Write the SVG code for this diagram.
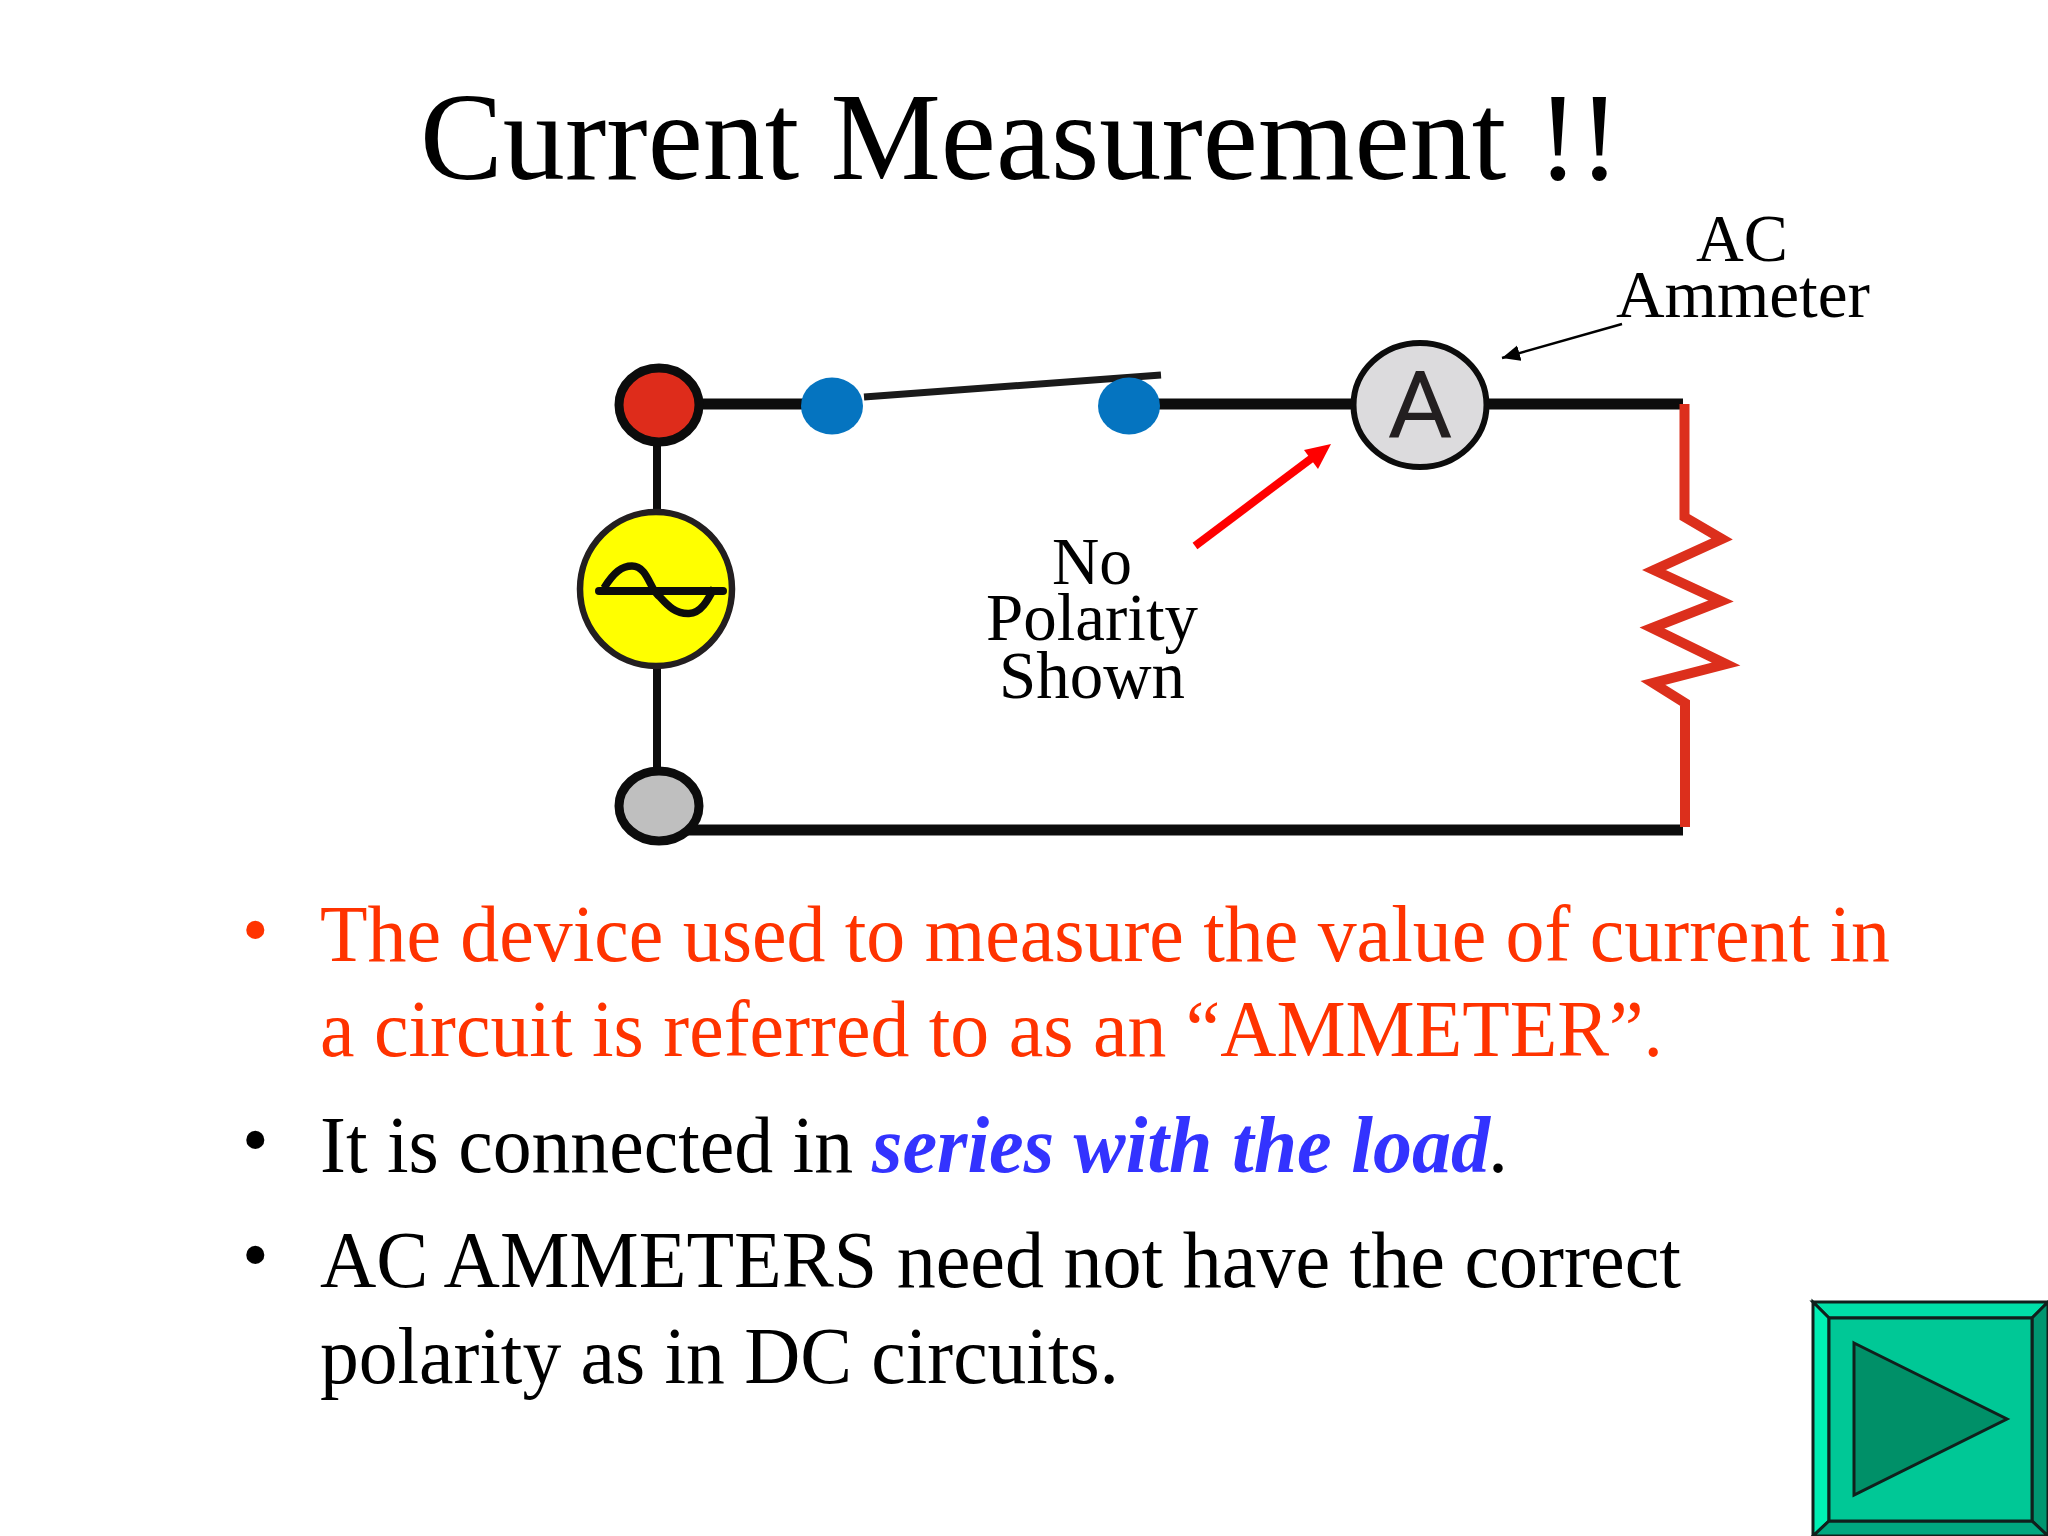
<svg xmlns="http://www.w3.org/2000/svg" width="2048" height="1536" viewBox="0 0 2048 1536">
<defs>
<style>
text{font-family:"Liberation Serif","Times New Roman",serif;fill:#000}
.lab{font-size:68px;text-anchor:middle}
.b{font-size:80px}
.d{font-size:76px}
.red{fill:#ff3300}
.w{stroke:#0c0c0c;fill:none;stroke-width:11}
.v{stroke:#0c0c0c;fill:none;stroke-width:8}
.bt{stroke:#10201c;stroke-width:3;stroke-linejoin:miter}
</style>
<marker id="ah" markerUnits="userSpaceOnUse" markerWidth="20" markerHeight="18" refX="18" refY="8" orient="auto"><path d="M0 0L18 8L0 16Z" fill="#000"/></marker>
</defs>
<rect width="2048" height="1536" fill="#fff"/>
<text id="title" x="420" y="178.500" font-size="125" textLength="1200" lengthAdjust="spacingAndGlyphs">Current Measurement !!</text>
<g id="connectors">
<path class="w" d="M659 404H832M1129 404H1355M1480 404H1683"/>
<path class="w" d="M680 830H1683"/>
<path class="v" d="M657 440V520M657 660V775"/>
<path d="M864 397L1161 375" stroke="#1a1a1a" stroke-width="7" fill="none"/>
<path d="M1684.500 404V517L1722 539L1654 570L1721 601L1652 628L1726 664L1653 683L1685 703V827" fill="none" stroke="#dc2f1c" stroke-width="10" stroke-miterlimit="10"/>
<path d="M1622 324L1502 358" stroke="#000" stroke-width="2.500" fill="none" marker-end="url(#ah)"/>
<path d="M1195 546L1316 455" stroke="#f00" stroke-width="8" fill="none"/>
<path d="M1331 444L1304 450L1318 469Z" fill="#f00"/>
</g>
<g id="node-positive"><ellipse cx="659" cy="405" rx="40" ry="37" fill="#de2c1b" stroke="#0c0c0c" stroke-width="9"/></g>
<g id="node-switch-a"><ellipse cx="832" cy="406" rx="31" ry="28.500" fill="#0574c0"/></g>
<g id="node-switch-b"><ellipse cx="1129" cy="406" rx="31" ry="28.500" fill="#0574c0"/></g>
<g id="node-source">
<ellipse cx="656" cy="589" rx="76" ry="77" fill="#ff0" stroke="#231f20" stroke-width="6.500"/>
<path d="M604 588C614 572 622 566 632 566C648 566 650 591 660 597C668 606 676 614 689 613.500C701 613 708 600 714 588" fill="none" stroke="#0c0c0c" stroke-width="7.500"/>
<path d="M599 591H723" stroke="#0c0c0c" stroke-width="8" stroke-linecap="round"/>
</g>
<g id="node-negative"><ellipse cx="659" cy="806" rx="40" ry="35" fill="#bfbfbf" stroke="#0c0c0c" stroke-width="9"/></g>
<g id="node-ammeter">
<ellipse cx="1420" cy="405" rx="66.500" ry="62" fill="#dcdbdd" stroke="#0c0c0c" stroke-width="6"/>
<text x="1420" y="436.500" font-size="93" text-anchor="middle" textLength="65" lengthAdjust="spacingAndGlyphs" style="font-family:Roboto,'Liberation Sans',sans-serif;fill:#231f20">A</text>
</g>
<g id="label-ac">
<text class="lab" x="1742" y="261" textLength="92" lengthAdjust="spacingAndGlyphs">AC</text>
<text class="lab" x="1743" y="317" textLength="254" lengthAdjust="spacingAndGlyphs">Ammeter</text>
</g>
<g id="label-polarity">
<text class="lab" x="1092" y="584" textLength="80" lengthAdjust="spacingAndGlyphs">No</text>
<text class="lab" x="1092" y="640" textLength="212" lengthAdjust="spacingAndGlyphs">Polarity</text>
<text class="lab" x="1092" y="698" textLength="186" lengthAdjust="spacingAndGlyphs">Shown</text>
</g>
<g id="bullets">
<text class="d red" x="242" y="955">•</text>
<text class="b red" x="320" y="961" textLength="1570" lengthAdjust="spacingAndGlyphs">The device used to measure the value of current in</text>
<text class="b red" x="320" y="1056" textLength="1343" lengthAdjust="spacingAndGlyphs">a circuit is referred to as an “AMMETER”.</text>
<text class="d" x="242" y="1165">•</text>
<text class="b" x="320" y="1172" textLength="533" lengthAdjust="spacingAndGlyphs">It is connected in</text>
<text class="b" x="872" y="1172" textLength="618" lengthAdjust="spacingAndGlyphs" font-weight="bold" font-style="italic" style="fill:#3333ff">series with the load</text>
<text class="b" x="1488" y="1172">.</text>
<text class="d" x="242" y="1280">•</text>
<text class="b" x="320" y="1287" textLength="1361" lengthAdjust="spacingAndGlyphs">AC AMMETERS need not have the correct</text>
<text class="b" x="320" y="1383" textLength="799" lengthAdjust="spacingAndGlyphs">polarity as in DC circuits.</text>
</g>
<g id="button">
<path class="bt" d="M1813 1302H2048L2032 1318H1829Z" fill="#00e0a8"/>
<path class="bt" d="M1813 1302V1536L1829 1521V1318Z" fill="#00f0b4"/>
<path class="bt" d="M2048 1302V1536L2032 1521V1318Z" fill="#009670"/>
<path class="bt" d="M1813 1536H2048L2032 1521H1829Z" fill="#00a880"/>
<rect class="bt" x="1829" y="1318" width="203" height="203" fill="#00c896"/>
<path class="bt" d="M1854 1343L2007 1419L1854 1495Z" fill="#009068"/>
</g>
</svg>
